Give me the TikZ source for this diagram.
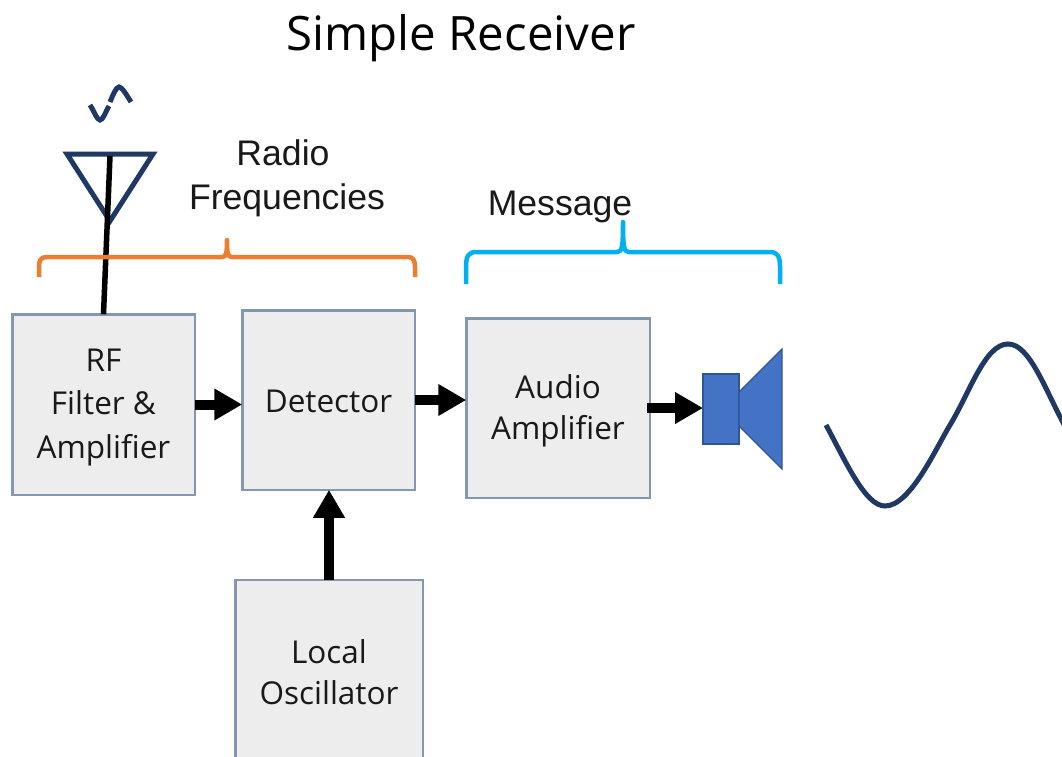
\documentclass[tikz,border=0pt]{standalone}
\usepackage{fontspec}
\setmainfont{Liberation Sans}
\newfontfamily\boxfont{Open Sans}
\usetikzlibrary{arrows.meta}
\definecolor{navy}{HTML}{1F3864}
\definecolor{boxedge}{HTML}{8497B0}
\definecolor{boxfill}{HTML}{EDEDED}
\definecolor{spk}{HTML}{4472C4}
\definecolor{spkedge}{HTML}{2F5597}
\definecolor{brorange}{HTML}{ED7D31}
\definecolor{brblue}{HTML}{00B0F0}
\newcommand{\boxtext}[3]{\fontsize{31.5}{#2}\selectfont\raisebox{#1}[0pt][0pt]{\begin{tabular}{@{}c@{}}#3\end{tabular}}}
\tikzset{
  block/.style={draw=boxedge,fill=boxfill,line width=2.5pt,inner sep=0pt,outer sep=0pt,align=center,
    font=\boxfont\fontsize{31.5}{42.5}\selectfont,text=black!90},
  flow/.style={draw=black,line width=10pt,-{Triangle[length=28pt,width=30pt]}},
  label/.style={font=\fontsize{35.6}{44}\selectfont,text=black!90,align=center,inner sep=0pt},
  brace/.style={line width=4.5pt,line join=round},
  wave/.style={draw=navy,line width=5pt,line cap=butt},
  spkpart/.style={fill=spk,draw=spkedge,line width=1.2pt}
}
\begin{document}
\begin{tikzpicture}[x=1pt,y=-1pt]
\useasboundingbox (0,0) rectangle (1062,756);
\fill[white] (0,0) rectangle (1062,756);
\node[inner sep=0pt,font=\boxfont\fontsize{47.4}{56}\selectfont,text=black] (title) at (461,38) {Simple Receiver};
\node[label] (rflabel) at (287,178) {Radio\hspace*{8pt}\\Frequencies};
\node[label] (msglabel) at (560,207) {Message};
\node[block,minimum width=182.5pt,minimum height=180.5pt] (rf) at (103.5,404.5) {\boxtext{-8pt}{43.5}{RF\\Filter \&\\Amplifier}};
\node[block,minimum width=172.5pt,minimum height=179.5pt] (det) at (328.5,400) {\boxtext{-10pt}{42}{Detector}};
\node[block,minimum width=183.5pt,minimum height=179.5pt] (aud) at (558,408) {\boxtext{-9.5pt}{41}{Audio\\Amplifier}};
\node[block,minimum width=187.5pt,minimum height=190pt] (lo) at (329,675) {\boxtext{-7.5pt}{41}{Local\\Oscillator}};
\node[spkpart,minimum width=36pt,minimum height=70pt,inner sep=0pt,outer sep=0pt] (spkbox) at (721,409) {};
\filldraw[spkpart] (739,392) -- (782,349) -- (782,469) -- (739,426) -- cycle;
% antenna
\coordinate (anttop) at (110,156);
\draw[navy,line width=5pt,line join=miter] (67,154) -- (153,154) -- (110,221) -- cycle;
\draw[line width=5.5pt] (rf.north) -- (anttop);
\draw[wave] (90,105) .. controls (94,111) and (97,120) .. (100,120) .. controls (103,120) and (105,113) .. (109,106);
\draw[wave] (110,102) .. controls (113,95) and (116,87) .. (119,87) .. controls (122,87) and (126,94) .. (131,102);
% braces
\draw[brace,brorange] (39,277) -- (39,267) .. controls (39,260) and (41,257) .. (47,257) -- (222,257) .. controls (226,257) and (227,254) .. (227,240) .. controls (227,254) and (228,257) .. (232,257) -- (408,257) .. controls (413,257) and (415,260) .. (415,267) -- (415,277);
\draw[brace,brblue] (466,284) -- (466,266) .. controls (466,256) and (469,252) .. (476,252) -- (617,252) .. controls (622,252) and (623,248) .. (623,222) .. controls (623,248) and (624,252) .. (629,252) -- (770,252) .. controls (777,252) and (780,256) .. (780,266) -- (780,284);
% flows
\draw[flow] (rf.east) -- (rf.east -| det.west);
\draw[flow] (det.east) -- (det.east -| aud.west);
\draw[flow,shorten <=-3pt] (aud.east) -- (aud.east -| spkbox.west);
\draw[flow] (lo.north) -- (lo.north |- det.south);
% output wave
\begin{scope}
\clip (0,0) rectangle (1062,756);
\draw[wave] (826,425) .. controls (845,460) and (865,506) .. (885,506) .. controls (910,506) and (935,450) .. (950,425) .. controls (970,392) and (985,344) .. (1008,344) .. controls (1030,344) and (1045,390) .. (1066,428);
\end{scope}
\end{tikzpicture}
\end{document}
